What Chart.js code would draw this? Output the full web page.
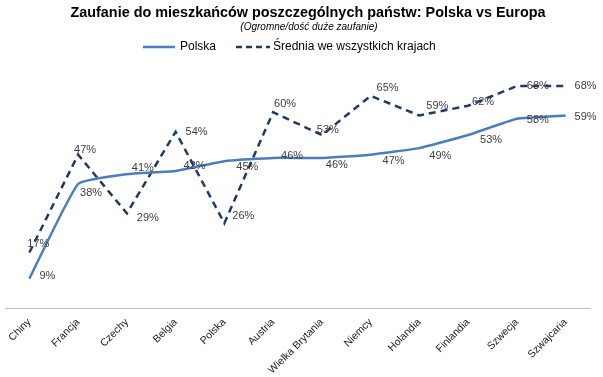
<!DOCTYPE html>
<html>
<head>
<meta charset="utf-8">
<script src="https://cdn.jsdelivr.net/npm/chart.js@4"></script>
<style>
  html, body { margin: 0; padding: 0; background: #fff; }
  #wrap { width: 603px; height: 377px; }
</style>
</head>
<body>
<div id="wrap"><canvas id="myChart"></canvas></div>
<script>
// Dane z wykresu
const kraje = ['Chiny', 'Francja', 'Czechy', 'Belgia', 'Polska', 'Austria', 'Wielka Brytania',
               'Niemcy', 'Holandia', 'Finlandia', 'Szwecja', 'Szwajcaria'];
const polska = [9, 38, 41, 42, 45, 46, 46, 47, 49, 53, 58, 59];
const srednia = [17, 47, 29, 54, 26, 60, 53, 65, 59, 62, 68, 68];

const tytul = 'Zaufanie do mieszkańców poszczególnych państw: Polska vs Europa';
const podtytul = '(Ogromne/dość duże zaufanie)';

// Przesunięcia etykiet (jak w oryginale z Excela)
const offPolska = [[18, -3], [13, 9], [16, -6], [19, -5], [23, 6], [19, -2], [15, 7], [23, 6], [21, 8], [23, 5], [21, 1], [20, 1]];
const offSrednia = [[9, -9], [7, -5], [21, 5], [21, 0], [19, -7], [12, -8], [6, -5], [17, -8], [18, -10], [15, -4], [21, 0], [20, 0]];

const FONT = '"Liberation Sans", Arial, sans-serif';

// Plugin: tytuł, legenda i etykiety danych
const rysujTeksty = {
    id: 'rysujTeksty',
    afterDatasetsDraw(chart) {
        const ctx = chart.ctx;
        ctx.save();
        ctx.textAlign = 'center';
        ctx.textBaseline = 'middle';
        ctx.fillStyle = '#000';
        ctx.font = 'bold 14.4px ' + FONT;
        ctx.fillText(tytul, 308, 13);
        ctx.font = 'italic 10px ' + FONT;
        ctx.fillText(podtytul, 309, 27);

        // legenda
        ctx.lineWidth = 2.5;
        ctx.strokeStyle = '#4A7EBB';
        ctx.beginPath(); ctx.moveTo(143, 47); ctx.lineTo(175, 47); ctx.stroke();
        ctx.strokeStyle = '#1F3B63';
        ctx.setLineDash([6, 4]);
        ctx.beginPath(); ctx.moveTo(236, 47); ctx.lineTo(270, 47); ctx.stroke();
        ctx.setLineDash([]);
        ctx.font = '12px ' + FONT;
        ctx.textAlign = 'left';
        ctx.fillStyle = '#000';
        ctx.fillText('Polska', 180, 47);
        ctx.fillText('Średnia we wszystkich krajach', 273, 47);

        // etykiety danych
        ctx.font = '11px ' + FONT;
        ctx.textAlign = 'center';
        ctx.fillStyle = '#404040';
        [offPolska, offSrednia].forEach((off, d) => {
            const meta = chart.getDatasetMeta(d);
            meta.data.forEach((pt, i) => {
                const v = chart.data.datasets[d].data[i];
                ctx.fillText(v + '%', pt.x + off[i][0], pt.y + off[i][1]);
            });
        });
        ctx.restore();
    }
};

const chart = new Chart(document.getElementById('myChart'), {
    type: 'line',
    data: {
        labels: kraje,
        datasets: [{
            label: 'Polska',
            data: polska,
            borderColor: '#4A7EBB',
            borderWidth: 2.5,
            pointRadius: 0,
            tension: 0.12,
            fill: false
        }, {
            label: 'Średnia we wszystkich krajach',
            data: srednia,
            borderColor: '#1F3B63',
            borderWidth: 2.5,
            borderDash: [7, 5],
            pointRadius: 0,
            tension: 0,
            fill: false
        }]
    },
    options: {
        responsive: true,
        maintainAspectRatio: false,
        animation: false,
        layout: { padding: { top: 60, left: 5, right: 13, bottom: 0 } },
        plugins: {
            legend: { display: false },
            tooltip: { enabled: false }
        },
        scales: {
            x: {
                offset: true,
                grid: { display: false },
                border: { display: true, color: '#BFBFBF', width: 1 },
                ticks: {
                    minRotation: 45,
                    maxRotation: 45,
                    autoSkip: false,
                    padding: 0,
                    color: '#222',
                    font: { family: FONT, size: 10.5 }
                },
                afterFit(scale) { scale.height = 69; }
            },
            y: {
                display: false,
                min: 0,
                max: 76
            }
        }
    },
    plugins: [rysujTeksty]
});
</script>
</body>
</html>
